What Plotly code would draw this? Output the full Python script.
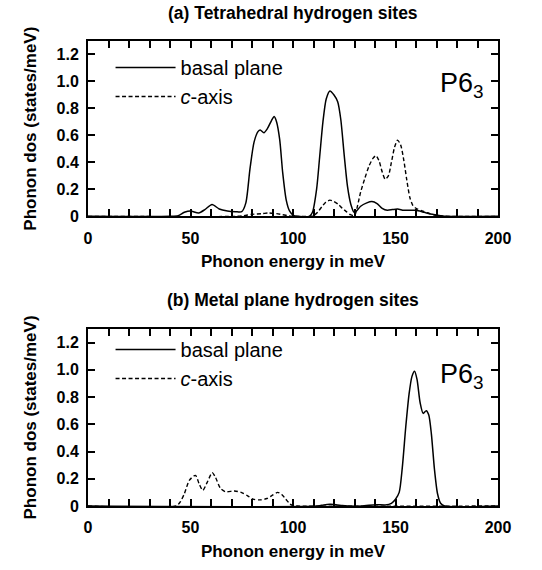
import plotly.graph_objects as go
from plotly.subplots import make_subplots

# ---- data ----
a_basal_x = [0, 40, 44, 47, 50, 54, 57, 60.5, 64, 68, 72, 75, 77, 79, 81, 83, 84, 85.8, 87.5, 89.5, 90.8, 92, 93.5, 95, 96.7, 98.3, 100, 102,
             108, 109.5, 111.5, 113, 114.6, 116.2, 118, 120, 121.8, 123.3, 125, 126.6, 128.2, 129.8, 131, 133, 136, 138.5, 141, 143.5,
             146, 148.5, 151, 154, 157, 160, 164, 168, 172, 175, 200]
a_basal_y = [0, 0, 0.005, 0.03, 0.04, 0.025, 0.05, 0.088, 0.055, 0.04, 0.035, 0.035, 0.1, 0.35, 0.55, 0.63, 0.64, 0.62, 0.65, 0.71, 0.74, 0.7, 0.57, 0.32, 0.12, 0.04, 0.01, 0,
             0, 0.03, 0.2, 0.44, 0.7, 0.87, 0.93, 0.9, 0.85, 0.72, 0.45, 0.22, 0.09, 0.03, 0.04, 0.075, 0.1, 0.11, 0.095, 0.06,
             0.045, 0.05, 0.055, 0.045, 0.045, 0.045, 0.03, 0.015, 0.005, 0, 0]

a_caxis_x = [0, 72, 76, 80, 85, 88, 92, 95, 98, 101, 108, 110, 112, 114, 116, 118, 120, 122, 124, 126, 128, 130,
             131.5, 133, 135, 137, 139, 140.5, 142, 143.5, 145, 146.5, 148, 149.5, 151, 152.5, 154, 155.5, 157, 158.5,
             160, 163, 166, 169, 172, 175, 200]
a_caxis_y = [0, 0, 0.005, 0.015, 0.02, 0.025, 0.02, 0.012, 0.004, 0, 0, 0.005, 0.03, 0.07, 0.105, 0.12, 0.11, 0.09, 0.06, 0.035, 0.012, 0.005,
             0.08, 0.18, 0.28, 0.37, 0.43, 0.45, 0.41, 0.33, 0.275, 0.3, 0.4, 0.51, 0.565, 0.53, 0.42, 0.27, 0.14, 0.08,
             0.06, 0.04, 0.025, 0.01, 0.003, 0, 0]

b_basal_x = [0, 112, 115, 118, 121, 124, 127, 134, 137, 141, 145, 148, 150, 151.8, 153.3, 155, 156.6, 158, 159.3, 160.5,
             162, 163.5, 165, 166.2, 167.5, 169, 170.5, 172, 174, 200]
b_basal_y = [0, 0, 0.008, 0.012, 0.01, 0.003, 0, 0, 0.006, 0.01, 0.008, 0.02, 0.05, 0.1, 0.28, 0.58, 0.82, 0.95, 0.99, 0.93,
             0.76, 0.68, 0.7, 0.67, 0.53, 0.27, 0.09, 0.02, 0, 0]

b_caxis_x = [0, 43, 45, 47, 49.5, 52.4, 54.3, 56, 58.2, 60.6, 62.2, 64.6, 67, 71.5, 74.7, 77.9, 80.5, 84, 87.3, 90,
             92.5, 94.5, 96.5, 98.5, 100, 102, 200]
b_caxis_y = [0, 0, 0.03, 0.09, 0.19, 0.225, 0.16, 0.115, 0.175, 0.245, 0.21, 0.13, 0.105, 0.11, 0.1, 0.075, 0.05, 0.045, 0.055, 0.08,
             0.1, 0.085, 0.05, 0.015, 0.003, 0, 0]

x_tick_vals = [0, 50, 100, 150, 200]
x_tick_text = ["0", "50", "100", "150", "200"]
x_minor_vals = [v for v in range(0, 201, 10) if v % 50 != 0]
y_tick_vals = [0, 0.2, 0.4, 0.6, 0.8, 1.0, 1.2]
y_tick_text = ["0", "0.2", "0.4", "0.6", "0.8", "1.0", "1.2"]

panel_titles = ["(a) Tetrahedral hydrogen sites", "(b) Metal plane hydrogen sites"]
series_names = ["basal plane", "<i>c</i>-axis"]
x_title = "Phonon energy in meV"
y_title = "Phonon dos (states/meV)"

FONT = "Liberation Sans, Arial, Helvetica, sans-serif"

fig = make_subplots(rows=2, cols=1, vertical_spacing=0.0)

panels = [(a_basal_x, a_basal_y, a_caxis_x, a_caxis_y), (b_basal_x, b_basal_y, b_caxis_x, b_caxis_y)]
for i, (bx, by, cx, cy) in enumerate(panels):
    leg = "legend" if i == 0 else "legend2"
    fig.add_trace(go.Scatter(x=bx, y=by, mode="lines", name=series_names[0],
                             line=dict(color="black", width=1.5, shape="spline", smoothing=0.7),
                             legend=leg), row=i + 1, col=1)
    fig.add_trace(go.Scatter(x=cx, y=cy, mode="lines", name=series_names[1],
                             line=dict(color="black", width=1.4, dash="4px,2.5px", shape="spline", smoothing=0.7),
                             legend=leg), row=i + 1, col=1)

H = 570
plot_bottom = 507.7
plot_top = 41
ph = plot_bottom - plot_top
def py(p):
    return (plot_bottom - p) / ph

fig.update_layout(
    width=542, height=570,
    margin=dict(l=88, r=44, t=41, b=int(H - plot_bottom)),
    paper_bgcolor="white", plot_bgcolor="white",
    font=dict(family=FONT, color="black", size=16),
    yaxis=dict(domain=[py(217), 1]),
    yaxis2=dict(domain=[0, py(330)]),
    legend=dict(x=0.055, y=py(48), xanchor="left", yanchor="top", font=dict(size=20),
                bgcolor="rgba(0,0,0,0)", itemwidth=60, tracegroupgap=0),
    legend2=dict(x=0.055, y=py(331), xanchor="left", yanchor="top", font=dict(size=20),
                 bgcolor="rgba(0,0,0,0)", itemwidth=60, tracegroupgap=0),
)

for r in (1, 2):
    fig.update_xaxes(range=[0, 200], tickmode="array", tickvals=x_tick_vals,
                     ticktext=[f"<b>{t}</b>" for t in x_tick_text],
                     ticks="inside", ticklen=7, tickwidth=2, tickcolor="black",
                     minor=dict(tickmode="array", tickvals=x_minor_vals, ticks="inside",
                                ticklen=7, tickwidth=2, tickcolor="black", showgrid=False),
                     showline=True, linewidth=2, linecolor="black", mirror="ticks",
                     showgrid=False, zeroline=False, tickfont=dict(size=16),
                     ticklabelstandoff=6,
                     title=dict(text=f"<b>{x_title}</b>", font=dict(size=17), standoff=10),
                     row=r, col=1)
    fig.update_yaxes(range=[0, 1.3], tickmode="array", tickvals=y_tick_vals,
                     ticktext=[f"<b>{t}</b>" for t in y_tick_text],
                     ticks="inside", ticklen=7, tickwidth=2, tickcolor="black",
                     showline=True, linewidth=2, linecolor="black", mirror="ticks",
                     showgrid=False, zeroline=False, tickfont=dict(size=16),
                     ticklabelstandoff=4,
                     title=dict(text=f"<b>{y_title}</b>", font=dict(size=17), standoff=16),
                     row=r, col=1)

for i, t in enumerate(panel_titles):
    ypix = 13 if i == 0 else 301
    fig.add_annotation(text=f"<b>{t}</b>", xref="paper", yref="paper", x=0.5, y=py(ypix),
                       xanchor="center", yanchor="middle", showarrow=False, font=dict(size=17.5))
    fig.add_annotation(text="P6<sub>3</sub>", xref="x domain" if i == 0 else "x2 domain",
                       yref="y domain" if i == 0 else "y2 domain",
                       x=0.97, y=0.75 if i == 0 else 0.735, xanchor="right", yanchor="middle",
                       showarrow=False, font=dict(size=27))

fig.write_html("out.html")
